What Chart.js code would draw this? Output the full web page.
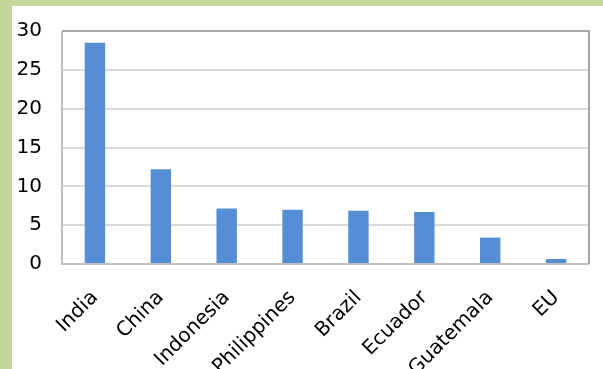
<!DOCTYPE html>
<html>
<head>
<meta charset="utf-8">
<script src="https://cdn.jsdelivr.net/npm/chart.js@4/dist/chart.umd.min.js"></script>
<style>
html,body{margin:0;padding:0;background:#fff;overflow:hidden;}
#frame{position:absolute;left:0;top:0;width:591px;height:363px;border-top:6px solid #c3d69b;border-left:12px solid #c3d69b;background:#fff;}
#wrap{position:relative;width:591px;height:363px;}
</style>
</head>
<body>
<div id="frame"><div id="wrap"><canvas id="c"></canvas></div></div>
<script>
const categories = ["India","China","Indonesia","Philippines","Brazil","Ecuador","Guatemala","EU"];
const values = [28.5, 12.2, 7.15, 7.0, 6.85, 6.7, 3.4, 0.65];
const yTicks = [0, 5, 10, 15, 20, 25, 30];

const borderPlugin = {
  id: 'plotBorder',
  afterDatasetsDraw(chart) {
    const a = chart.chartArea, ctx = chart.ctx;
    ctx.save();
    ctx.strokeStyle = '#a6a6a6';
    ctx.lineWidth = 2;
    ctx.beginPath();
    ctx.moveTo(a.left, a.top); ctx.lineTo(a.right, a.top); ctx.lineTo(a.right, a.bottom);
    ctx.stroke();
    ctx.strokeStyle = '#bfbfbf';
    ctx.beginPath();
    ctx.moveTo(a.left, a.top); ctx.lineTo(a.left, a.bottom); ctx.lineTo(a.right, a.bottom);
    ctx.stroke();
    ctx.restore();
  }
};

new Chart(document.getElementById('c'), {
  type: 'bar',
  data: {
    labels: categories,
    datasets: [{
      data: values,
      backgroundColor: '#558ed5',
      borderWidth: 0,
      categoryPercentage: 1.0,
      barPercentage: 0.31
    }]
  },
  options: {
    responsive: true,
    maintainAspectRatio: false,
    animation: false,
    layout: { padding: { top: 25, right: 14, left: 0, bottom: 0 } },
    plugins: { legend: { display: false }, tooltip: { enabled: false } },
    scales: {
      x: {
        grid: { display: false, drawTicks: false },
        border: { display: false },
        ticks: {
          color: '#000',
          font: { family: 'DejaVu Sans', size: 20 },
          minRotation: 45, maxRotation: 45,
          autoSkip: false,
          padding: 22
        },
        afterFit(scale) { scale.height = 105; scale.paddingLeft = 0; scale.paddingRight = 0; }
      },
      y: {
        min: 0, max: 30,
        afterBuildTicks(scale) { scale.ticks = yTicks.map(v => ({ value: v })); },
        grid: { color: '#d9d9d9', lineWidth: 2, drawTicks: false },
        border: { display: false },
        ticks: {
          color: '#000',
          font: { family: 'DejaVu Sans', size: 20 },
          padding: 20
        },
        afterFit(scale) { scale.width = 50; scale.paddingTop = 0; scale.paddingBottom = 0; }
      }
    }
  },
  plugins: [borderPlugin]
});
</script>
</body>
</html>
